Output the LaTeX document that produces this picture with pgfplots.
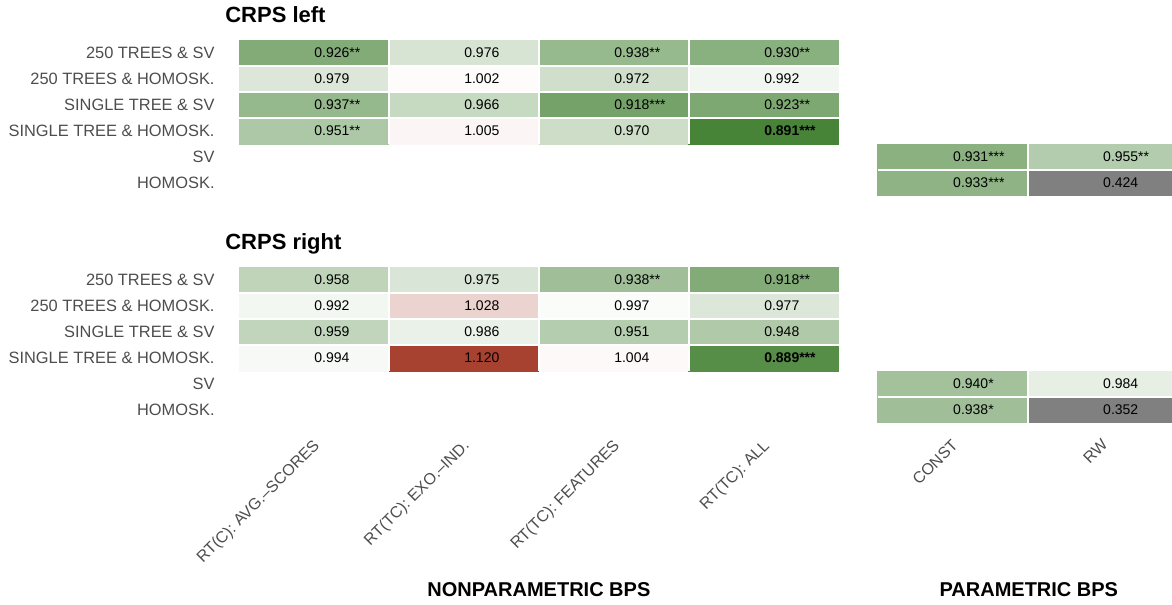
\documentclass[border=0pt]{standalone}
\usepackage{fontspec}
\setmainfont{Liberation Sans}
\usepackage{pgfplots}
\pgfplotsset{compat=1.18}
\definecolor{lblgray}{HTML}{4D4D4D}
\pgfplotsset{
  colormap={crpsL}{rgb255(0pt)=(128,128,128) rgb255(500pt)=(128,128,128) rgb255(501pt)=(72,132,56) rgb255(591pt)=(72,132,56) rgb255(700pt)=(255,255,255) rgb255(809pt)=(168,66,48)},
  colormap={crpsR}{rgb255(0pt)=(128,128,128) rgb255(500pt)=(128,128,128) rgb255(501pt)=(72,132,56) rgb255(580pt)=(72,132,56) rgb255(700pt)=(255,255,255) rgb255(820pt)=(168,66,48)},
  heat/.style={
    scale only axis, width=466.5pt, height=78pt,
    xmin=-0.5, xmax=5.72, ymin=-0.5, ymax=5.5,
    axis line style={draw=none}, major tick length=0pt,
    ytick={0,1,2,3,4,5},
    yticklabels={HOMOSK., SV, SINGLE TREE \& HOMOSK., SINGLE TREE \& SV, 250 TREES \& HOMOSK., 250 TREES \& SV},
    yticklabel style={font=\fontsize{8.2}{9}\selectfont, text=lblgray, anchor=east, inner sep=0pt, xshift=-12pt},
    point meta min=0.3,
    unbounded coords=jump,
    clip=true,
  },
  sep/.style={white, line width=1pt, mark=none},
}
\begin{document}
\begin{tikzpicture}
\path (0pt,0pt) rectangle (586pt,-302.5pt);
% ---------------- CRPS left ----------------
\begin{axis}[heat, at={(119.5pt,-20pt)}, anchor=north west,
  colormap name=crpsL, point meta max=1.109, xtick=\empty]
\addplot[matrix plot*, mesh/cols=4, point meta=explicit] table[meta=c] {
x y c
0 2 0.951
1 2 1.005
2 2 0.970
3 2 0.891
0 3 0.937
1 3 0.966
2 3 0.918
3 3 0.923
0 4 0.979
1 4 1.002
2 4 0.972
3 4 0.992
0 5 0.926
1 5 0.976
2 5 0.938
3 5 0.930
};
\addplot[matrix plot*, mesh/cols=2, point meta=explicit] table[meta=c] {
x y c
4.26 0 0.933
5.26 0 0.424
4.26 1 0.931
5.26 1 0.955
};
\addplot[sep] coordinates {(0.5,1.5) (0.5,5.5) (nan,nan) (1.5,1.5) (1.5,5.5) (nan,nan) (2.5,1.5) (2.5,5.5) (nan,nan)
 (4.76,-0.5) (4.76,1.5) (nan,nan) (-0.5,2.5) (3.5,2.5) (nan,nan) (-0.5,3.5) (3.5,3.5) (nan,nan) (-0.5,4.5) (3.5,4.5) (nan,nan)
 (3.76,0.5) (5.8,0.5)};
\addplot[only marks, mark=none, point meta=explicit symbolic, nodes near coords, nodes near coords align={west},
  every node near coord/.append style={font=\fontsize{7}{8}\selectfont, text=black, inner sep=0pt}] coordinates {
(0,5) [0.926**] (1,5) [0.976] (2,5) [0.938**] (3,5) [0.930**]
(0,4) [0.979] (1,4) [1.002] (2,4) [0.972] (3,4) [0.992]
(0,3) [0.937**] (1,3) [0.966] (2,3) [0.918***] (3,3) [0.923**]
(0,2) [0.951**] (1,2) [1.005] (2,2) [0.970] (3,2) [\textbf{0.891***}]
(4.26,1) [0.931***] (5.26,1) [0.955**]
(4.26,0) [0.933***] (5.26,0) [0.424]
};
\end{axis}
% ---------------- CRPS right ----------------
\begin{axis}[heat, at={(119.5pt,-133.5pt)}, anchor=north west,
  colormap name=crpsR, point meta max=1.12,
  xtick={0,1,2,3,4.26,5.26},
  xticklabels={RT(C): AVG.--SCORES, RT(TC): EXO.--IND., RT(TC): FEATURES, RT(TC): ALL, CONST, RW},
  xticklabel style={font=\fontsize{8}{9}\selectfont, text=lblgray, inner sep=0pt, xshift=-1pt, yshift=-7.5pt, rotate=45, anchor=north east}]
\addplot[matrix plot*, mesh/cols=4, point meta=explicit] table[meta=c] {
x y c
0 2 0.994
1 2 1.120
2 2 1.004
3 2 0.889
0 3 0.959
1 3 0.986
2 3 0.951
3 3 0.948
0 4 0.992
1 4 1.028
2 4 0.997
3 4 0.977
0 5 0.958
1 5 0.975
2 5 0.938
3 5 0.918
};
\addplot[matrix plot*, mesh/cols=2, point meta=explicit] table[meta=c] {
x y c
4.26 0 0.938
5.26 0 0.352
4.26 1 0.940
5.26 1 0.984
};
\addplot[sep] coordinates {(0.5,1.5) (0.5,5.5) (nan,nan) (1.5,1.5) (1.5,5.5) (nan,nan) (2.5,1.5) (2.5,5.5) (nan,nan)
 (4.76,-0.5) (4.76,1.5) (nan,nan) (-0.5,2.5) (3.5,2.5) (nan,nan) (-0.5,3.5) (3.5,3.5) (nan,nan) (-0.5,4.5) (3.5,4.5) (nan,nan)
 (3.76,0.5) (5.8,0.5)};
\addplot[only marks, mark=none, point meta=explicit symbolic, nodes near coords, nodes near coords align={west},
  every node near coord/.append style={font=\fontsize{7}{8}\selectfont, text=black, inner sep=0pt}] coordinates {
(0,5) [0.958] (1,5) [0.975] (2,5) [0.938**] (3,5) [0.918**]
(0,4) [0.992] (1,4) [1.028] (2,4) [0.997] (3,4) [0.977]
(0,3) [0.959] (1,3) [0.986] (2,3) [0.951] (3,3) [0.948]
(0,2) [0.994] (1,2) [1.120] (2,2) [1.004] (3,2) [\textbf{0.889***}]
(4.26,1) [0.940*] (5.26,1) [0.984]
(4.26,0) [0.938*] (5.26,0) [0.352]
};
\end{axis}
% titles and group labels
\node[anchor=base west, inner sep=0pt, font=\fontsize{11}{13}\selectfont\bfseries] at (112.5pt,-11.5pt) {CRPS left};
\node[anchor=base west, inner sep=0pt, font=\fontsize{11}{13}\selectfont\bfseries] at (112.5pt,-125pt) {CRPS right};
\node[anchor=base, inner sep=0pt, font=\fontsize{10}{12}\selectfont\bfseries] at (269.5pt,-298.5pt) {NONPARAMETRIC BPS};
\node[anchor=base, inner sep=0pt, font=\fontsize{10}{12}\selectfont\bfseries] at (514.5pt,-298.5pt) {PARAMETRIC BPS};
\end{tikzpicture}
\end{document}
